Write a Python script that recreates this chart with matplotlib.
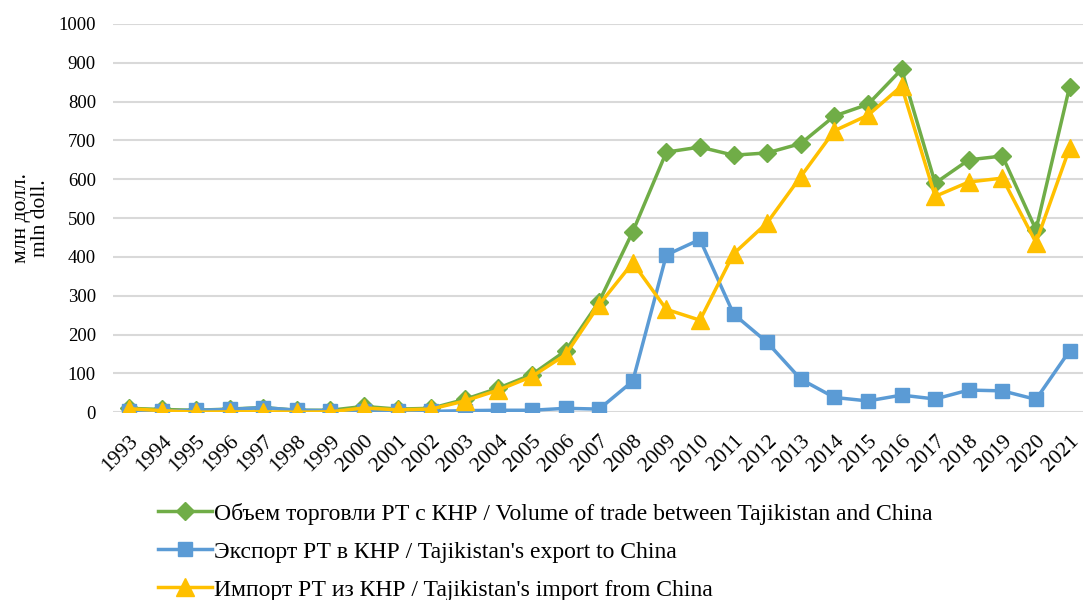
import matplotlib.pyplot as plt
import numpy as np

YEARS = list(range(1993, 2022))
TRADE = [10, 7, 5, 8, 12, 5, 5, 15, 8, 10, 33, 62, 97, 158, 285, 465, 670, 683, 662, 668,
         692, 763, 793, 883, 590, 650, 660, 470, 838]
EXPORT = [2, 3, 5, 7, 12, 5, 4, 4, 2, 2, 4, 5, 5, 10, 8, 80, 405, 445, 253, 180,
          85, 38, 29, 44, 34, 57, 55, 33, 158]
IMPORT = [9, 4, 0, 1, 1, 0, 1, 11, 6, 8, 29, 57, 92, 148, 277, 385, 265, 237, 408, 488,
          607, 725, 765, 840, 556, 593, 603, 437, 680]
LABELS = [
    "Объем торговли РТ с КНР / Volume of trade between Tajikistan and China",
    "Экспорт РТ в КНР / Tajikistan's export to China",
    "Импорт РТ из КНР / Tajikistan's import from China",
]
C = {"trade": "#70AD47", "export": "#5B9BD5", "import": "#FFC000"}

plt.rcParams["font.family"] = ["Liberation Serif", "DejaVu Serif"]

fig = plt.figure(figsize=(10.83, 6.0), dpi=100)
ax = fig.add_axes([0.104, 0.313, 0.896, 0.647])

x = np.arange(len(YEARS))
ax.plot(x, TRADE, color=C["trade"], lw=2.5, marker="D", ms=9.5, label=LABELS[0], zorder=3)
ax.plot(x, EXPORT, color=C["export"], lw=2.5, marker="s", ms=10.5, label=LABELS[1], zorder=4)
ax.plot(x, IMPORT, color=C["import"], lw=2.5, marker="^", ms=12.5, label=LABELS[2], zorder=5)

ax.set_xlim(-0.48, len(YEARS) - 0.6)
ax.set_ylim(0, 1000)
ax.set_yticks(np.arange(0, 1001, 100))
ax.set_xticks(x)
ax.set_xticklabels([str(y) for y in YEARS], rotation=45, ha="right", rotation_mode="anchor")
ax.tick_params(axis="y", length=0, labelsize=13.5, pad=12)
ax.tick_params(axis="x", length=0, labelsize=15.5, pad=14)
ax.grid(axis="y", color="#D9D9D9", lw=1.5)
ax.set_axisbelow(True)
for s in ax.spines.values():
    s.set_visible(False)
ax.set_ylabel("млн долл.\nmln doll.", fontsize=15.5, labelpad=6, linespacing=1.0)

fig.legend(loc="upper left", bbox_to_anchor=(0.137, 0.178), frameon=False, fontsize=17,
           handlelength=2.3, handletextpad=0.1, labelspacing=0.7, borderaxespad=0)

fig.savefig("out.png", dpi=100)
